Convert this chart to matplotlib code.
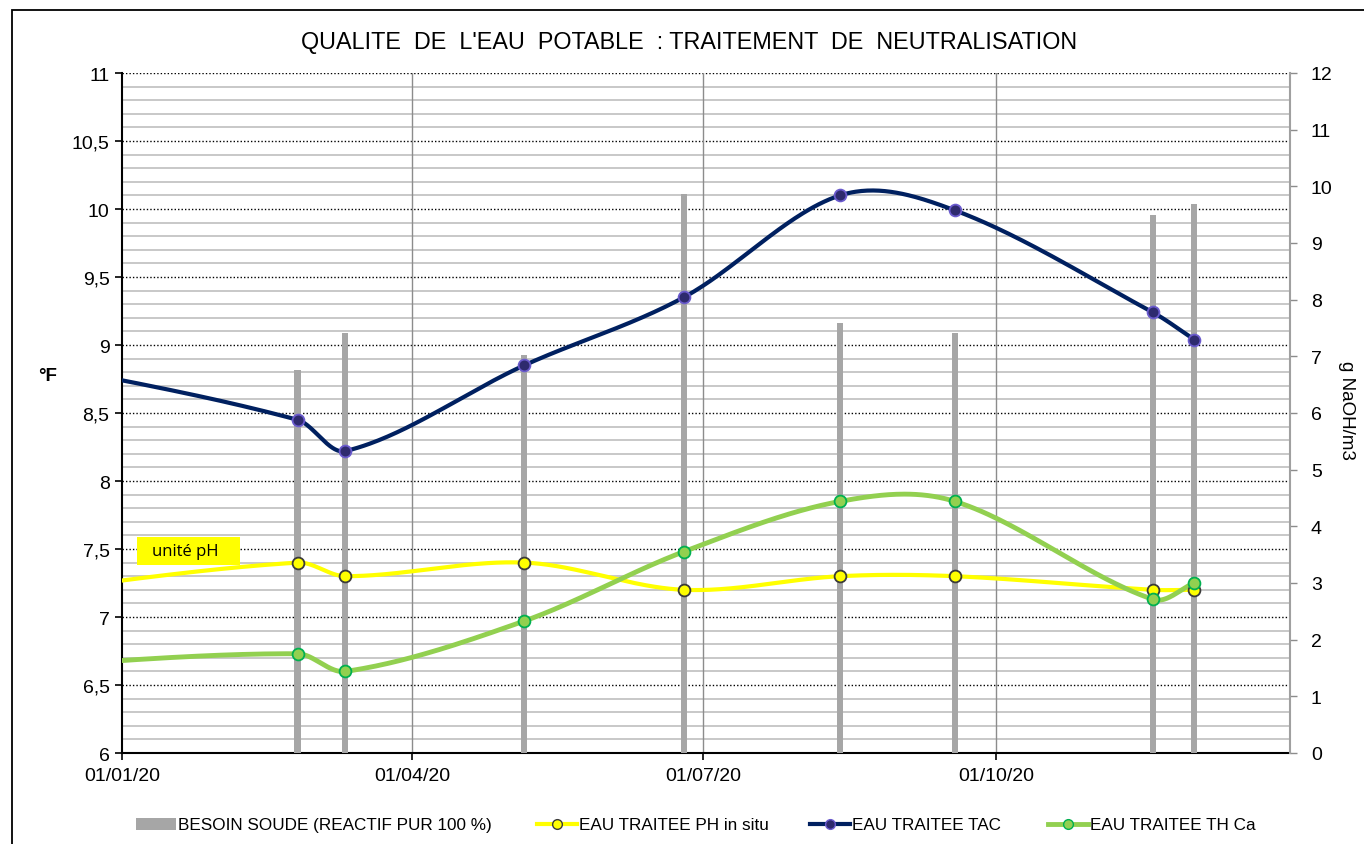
import numpy as np
import pandas as pd
import matplotlib
matplotlib.use("Agg")
import matplotlib.pyplot as plt
import matplotlib.dates as mdates
from matplotlib.ticker import FuncFormatter, MultipleLocator
from matplotlib.patches import Rectangle, Patch
from matplotlib.lines import Line2D

plt.rcParams['font.family'] = ['Liberation Sans', 'DejaVu Sans']

# ---------------- data ----------------
dates = ["2019-11-15", "2020-02-25", "2020-03-11", "2020-05-06", "2020-06-25",
         "2020-08-13", "2020-09-18", "2020-11-19", "2020-12-02"]
besoin_soude = [7.0, 6.76, 7.41, 7.02, 9.86, 7.59, 7.41, 9.49, 9.69]   # g NaOH/m3 (right axis)
ph_in_situ   = [7.13, 7.40, 7.30, 7.40, 7.20, 7.30, 7.30, 7.20, 7.20]
tac          = [8.96, 8.45, 8.22, 8.85, 9.35, 10.10, 9.99, 9.24, 9.04]
th_ca        = [6.61, 6.73, 6.60, 6.97, 7.48, 7.85, 7.85, 7.13, 7.25]
x_ticks = ["2020-01-01", "2020-04-01", "2020-07-01", "2020-10-01"]

title = "QUALITE  DE  L'EAU  POTABLE  : TRAITEMENT  DE  NEUTRALISATION"
labels = ["BESOIN SOUDE (REACTIF PUR 100 %)", "EAU TRAITEE PH in situ",
          "EAU TRAITEE TAC", "EAU TRAITEE TH Ca"]

W, H = 1364, 845
fig = plt.figure(figsize=(W / 100, H / 100), dpi=100)
fig.patch.set_facecolor("white")

left, right, top, bottom = 122 / W, 1290 / W, 1 - 74 / H, 1 - 754 / H
rect = [left, bottom, right - left, top - bottom]

xd = mdates.date2num(pd.to_datetime(dates))
xlim = mdates.date2num(pd.to_datetime(["2020-01-01", "2021-01-01"]))
YL = (6, 11)
YR = (0, 12)

# layer 1: grid (left scale)
ax = fig.add_axes(rect)
ax.set_xlim(*xlim)
ax.set_ylim(*YL)
# layer 2: bars (right scale)
axb = ax.twinx()
axb.set_ylim(*YR)
# layer 3: lines (left scale)
axl = ax.twinx()
axl.set_ylim(*YL)
axl.set_xlim(*xlim)

# grid on ax
for v in np.arange(6.1, 11.0, 0.1):
    if abs(v * 2 - round(v * 2)) < 1e-6:
        continue
    ax.axhline(v, color="#c4c4c4", lw=1.3, zorder=0)
for v in np.arange(6.5, 11.01, 0.5):
    ax.axhline(v, color="#000000", lw=1.0, ls=(0, (1, 1.5)), zorder=1)
xt = mdates.date2num(pd.to_datetime(x_ticks))
for v in xt[1:]:
    ax.axvline(v, color="#8c8c8c", lw=1.0, zorder=1)
ax.set_xticks(xt)
ax.xaxis.set_major_formatter(mdates.DateFormatter("%d/%m/%y"))
ax.yaxis.set_major_locator(MultipleLocator(0.5))

def fmt(v, p):
    return ("%g" % v).replace(".", ",")
ax.yaxis.set_major_formatter(FuncFormatter(fmt))
ax.tick_params(axis="both", direction="out", length=5, width=1.2, labelsize=14, colors="black")
ax.tick_params(axis="y", pad=4)
ax.tick_params(axis="x", pad=5)
for s in ["top", "right"]:
    ax.spines[s].set_visible(False)
ax.spines["left"].set_linewidth(1.5)
ax.spines["bottom"].set_linewidth(1.5)

# bars
axb.bar(xd, besoin_soude, width=1.9, color="#a6a6a6", zorder=2)
axb.yaxis.set_major_locator(MultipleLocator(1))
axb.tick_params(axis="y", direction="out", length=5, width=1.0, labelsize=14,
                color="#8c8c8c", labelcolor="black", pad=10)
for s in ["top", "left", "bottom"]:
    axb.spines[s].set_visible(False)
axb.spines["right"].set_color("#a0a0a0")
axb.spines["right"].set_linewidth(1.5)
axb.set_xlim(*xlim)
fig.text(1346 / W, 1 - 410 / H, "g NaOH/m3", rotation=-90, fontsize=13.5,
         ha="center", va="center")

# smooth curve: cubic Hermite in x with central-difference slopes
def smooth(x, y):
    x = np.asarray(x, float)
    y = np.asarray(y, float)
    n = len(x)
    m = np.zeros(n)
    for i in range(n):
        if i == 0:
            m[i] = (y[1] - y[0]) / (x[1] - x[0])
        elif i == n - 1:
            m[i] = (y[-1] - y[-2]) / (x[-1] - x[-2])
        else:
            m[i] = (y[i + 1] - y[i - 1]) / (x[i + 1] - x[i - 1])
    xs, ys = [], []
    t = np.linspace(0, 1, 60)
    for i in range(n - 1):
        h = x[i + 1] - x[i]
        h00 = 2 * t**3 - 3 * t**2 + 1
        h10 = t**3 - 2 * t**2 + t
        h01 = -2 * t**3 + 3 * t**2
        h11 = t**3 - t**2
        yy = h00 * y[i] + h10 * h * m[i] + h01 * y[i + 1] + h11 * h * m[i + 1]
        xx = x[i] + t * h
        xs.append(xx if i == 0 else xx[1:])
        ys.append(yy if i == 0 else yy[1:])
    return np.concatenate(xs), np.concatenate(ys)

series = [
    (ph_in_situ, "#ffff00", "#ffff00", "#3a3a3a", 3.0),
    (tac, "#002060", "#2e2a6e", "#6a5acd", 3.0),
    (th_ca, "#92d050", "#92d050", "#00b050", 3.5),
]
for y, lc, mfc, mec, lw in series:
    sx_, sy_ = smooth(xd, y)
    axl.plot(sx_, sy_, color=lc, lw=lw, solid_capstyle="butt", zorder=3)
    axl.plot(xd[1:], y[1:], ls="none", marker="o", ms=8.5, mfc=mfc, mec=mec, mew=1.3, zorder=4)
axl.axis("off")

# unité pH box
d0 = xlim[0]
axl.add_patch(Rectangle((d0 + 4.7, 7.382), 32.3, 0.206, fc="#ffff00", ec="none", zorder=5))
axl.text(d0 + 9.4, 7.485, "unité pH", family=["Open Sans", "DejaVu Sans"],
         fontsize=12, va="center", ha="left", zorder=6)

fig.text(48 / W, 1 - 377 / H, "°F", fontsize=13.5, fontweight="bold", ha="center", va="center")
fig.text(689 / W, 1 - 42 / H, title, fontsize=16.8, ha="center", va="center")

# legend (one entry per slot, as in the reference)
handles = [
    Patch(facecolor="#a6a6a6", edgecolor="none"),
    Line2D([], [], color="#ffff00", lw=3, marker="o", ms=7, mfc="#ffff00", mec="#3a3a3a"),
    Line2D([], [], color="#002060", lw=3, marker="o", ms=7, mfc="#2e2a6e", mec="#6a5acd"),
    Line2D([], [], color="#92d050", lw=3.5, marker="o", ms=7, mfc="#92d050", mec="#00b050"),
]
slots = [136, 537, 810, 1048]
for hnd, lab, xs in zip(handles, labels, slots):
    fig.legend([hnd], [lab], loc="center left", bbox_to_anchor=(xs / W, 1 - 826 / H),
               frameon=False, fontsize=12.3, handlelength=2.35, handletextpad=0.12,
               borderpad=0, borderaxespad=0)

# outer frame
fig.add_artist(Rectangle((12 / W, -0.05), 1.2, 1 - 11 / H + 0.05, transform=fig.transFigure,
                         fill=False, ec="black", lw=1.3))

fig.savefig("out.png", dpi=100, facecolor="white")
